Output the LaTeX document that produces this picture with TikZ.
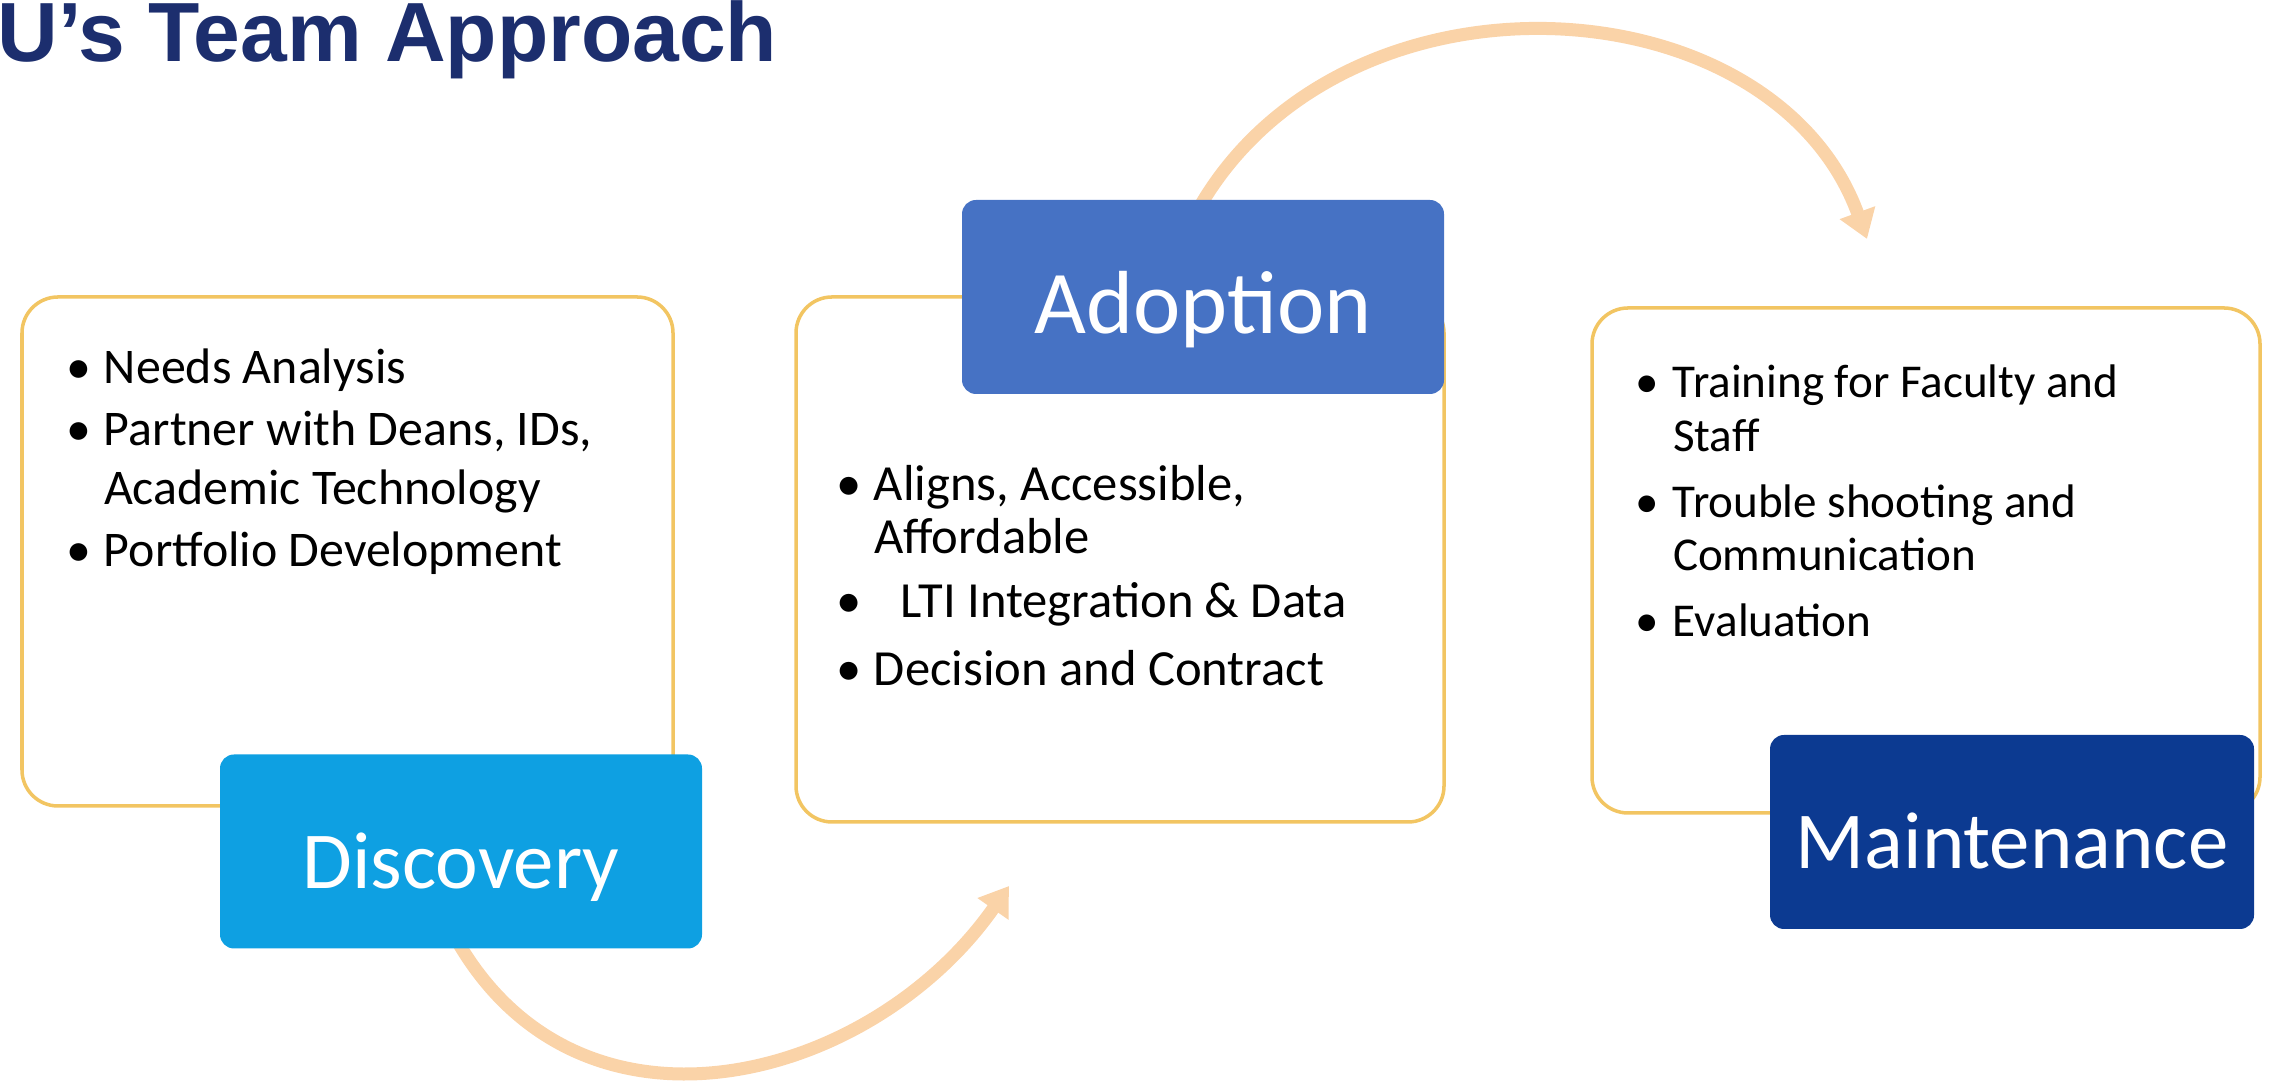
\documentclass[tikz,border=0pt]{standalone}
\usepackage{fontspec}
\setmainfont{Carlito}
\newfontfamily\titlefont{Liberation Sans}
\usetikzlibrary{positioning, arrows.meta}
\usetikzlibrary{backgrounds}

\definecolor{titleblue}{RGB}{28,46,110}
\definecolor{boxgold}{RGB}{242,197,98}
\definecolor{discblue}{RGB}{14,160,226}
\definecolor{adopblue}{RGB}{70,114,196}
\definecolor{maintblue}{RGB}{12,58,145}
\definecolor{arrowpeach}{RGB}{250,211,168}

% one bullet line, wrapped lines hang under the text
\newcommand{\bitem}[1]{\par\noindent\hangindent=0.38cm\hangafter=1\strut\makebox[0.38cm][l]{\textbullet}#1}

\begin{document}
\begin{tikzpicture}[
        panel/.style={draw=boxgold, line width=1pt, rounded corners=0.36cm, inner sep=0pt, outer sep=0pt},
        tag/.style={rounded corners=0.14cm, text=white, inner sep=0pt, outer sep=0pt, minimum width=4.82cm, minimum height=1.94cm, text height=0.86cm, text depth=0.12cm, font=\fontsize{23pt}{27pt}\selectfont},
        bullets/.style={inner sep=0pt, outer sep=0pt, anchor=north west},
        flow/.style={color=arrowpeach, line width=0.13cm, -{Triangle[width=0.36cm, length=0.28cm]}}
    ]
        \useasboundingbox (0,0) rectangle (22.69,10.86);

        % Title, cut at the left side
        \node[anchor=base west, inner sep=0pt, text=titleblue, font=\titlefont\bfseries\fontsize{23.9pt}{28pt}\selectfont] (title) at (-0.03,10.24) {U’s Team Approach};

        %%% Panels
            % Define the three framed panels
            \node[panel, minimum width=6.51cm, minimum height=5.09cm] (discBox) at (3.475,5.345) {};
            \node[panel, minimum width=6.48cm, minimum height=5.25cm] (adopBox) at (11.20,5.265) {};
            \node[panel, minimum width=6.68cm, minimum height=5.05cm] (maintBox) at (19.26,5.255) {};

        %%% Tags
            % Coloured tags sitting on the panel frames
            \node[tag, fill=discblue] (discovery) at (4.61,2.345) {Discovery};
            \node[tag, fill=adopblue, font=\fontsize{25.5pt}{30pt}\selectfont] (adoption) at (12.03,7.89) {Adoption};
            \node[tag, fill=maintblue, minimum width=4.84cm] (maintenance) at (20.12,2.54) {Maintenance};

        %%% Bullet lists
            % Left panel
            \node[bullets, font=\fontsize{14.2pt}{0.59cm}\selectfont, below right=0.45cm and 0.44cm of discBox.north west] (discList) {\parbox[t]{5.9cm}{\raggedright\setlength{\parskip}{0.03cm}%
                \bitem{Needs Analysis}
                \bitem{Partner with Deans, IDs,\newline Academic Technology}
                \bitem{Portfolio Development}}};

            % Middle panel
            \node[bullets, font=\fontsize{14.4pt}{0.50cm}\selectfont, below right=1.68cm and 0.40cm of adopBox.north west] (adopList) {\parbox[t]{5.8cm}{\raggedright\setlength{\parskip}{0.14cm}%
                \bitem{Aligns, Accessible,\newline Affordable}
                \bitem{\hspace{0.27cm}LTI Integration \& Data}
                \bitem{Decision and Contract}}};

            % Right panel
            \node[bullets, font=\fontsize{13.4pt}{0.535cm}\selectfont, below right=0.525cm and 0.43cm of maintBox.north west] (maintList) {\parbox[t]{6cm}{\raggedright\setlength{\parskip}{0.125cm}%
                \bitem{Training for Faculty and\newline Staff}
                \bitem{Trouble shooting and\newline Communication}
                \bitem{Evaluation}}};

        %%% Curved arrows, behind the tags
        \begin{scope}[on background layer]
            \coordinate (adopIn) at (10.09,2.00);
            \coordinate (maintIn) at (18.67,8.47);
            \draw[flow, shorten <=-0.2cm] (discovery.south) to[out=-62, in=-125, looseness=1.12] (adopIn);
            \draw[flow, shorten <=-0.2cm] (adoption.north) to[out=62, in=110, looseness=1.07] (maintIn);
        \end{scope}
\end{tikzpicture}
\end{document}
